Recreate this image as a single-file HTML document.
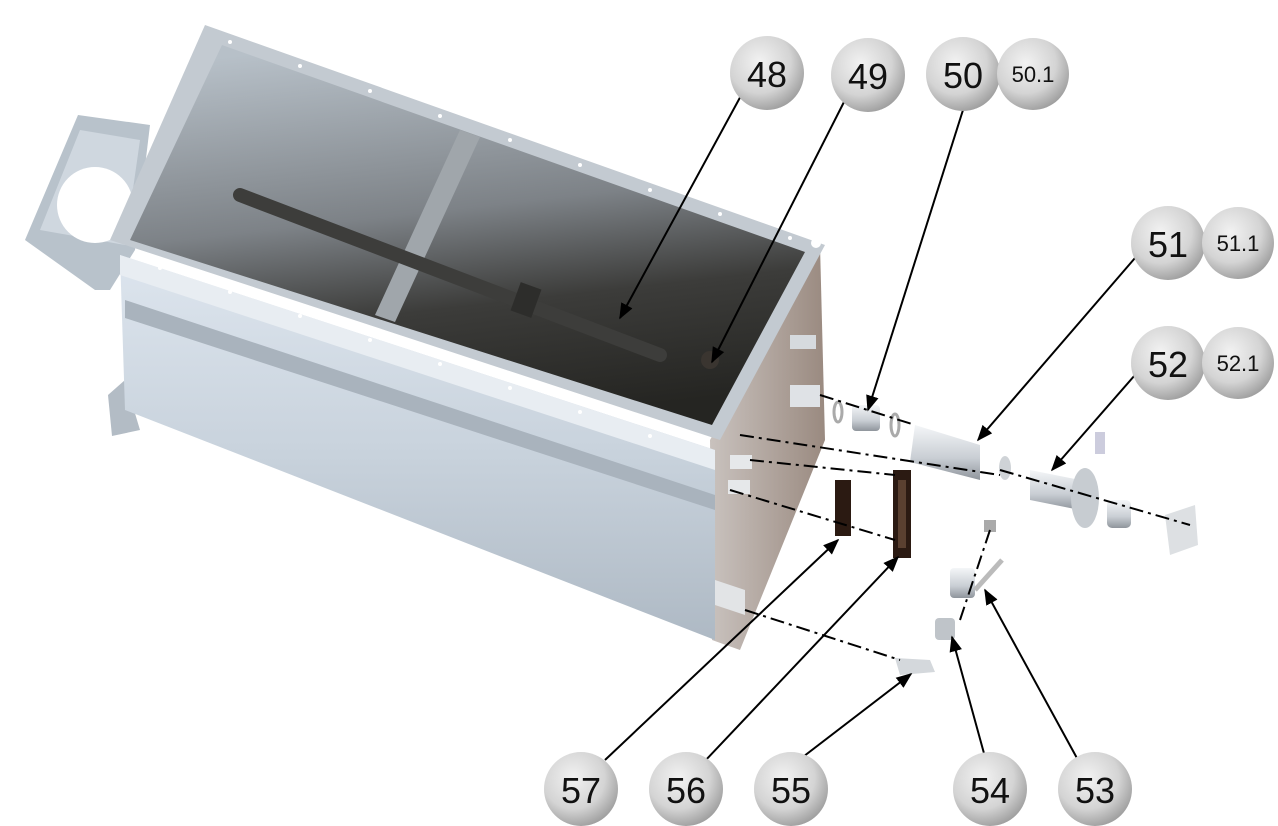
<!DOCTYPE html>
<html><head><meta charset="utf-8"><style>
html,body{margin:0;padding:0;background:#fff;}
svg{display:block;}
text{font-family:"Liberation Sans",sans-serif;fill:#111;text-anchor:middle;}
</style></head><body>
<svg width="1278" height="826" viewBox="0 0 1278 826" xmlns="http://www.w3.org/2000/svg">
<defs>
<radialGradient id="b" cx="0.4" cy="0.35" r="0.7">
<stop offset="0" stop-color="#f2f2f2"/><stop offset="0.6" stop-color="#d4d4d4"/><stop offset="1" stop-color="#9a9a9a"/>
</radialGradient>
<linearGradient id="inner" x1="0.3" y1="0" x2="0.5" y2="1">
<stop offset="0" stop-color="#b7c0c8"/><stop offset="0.45" stop-color="#7d8287"/><stop offset="0.7" stop-color="#3c3c3a"/><stop offset="1" stop-color="#252522"/>
</linearGradient>
<linearGradient id="front" x1="0" y1="0" x2="0" y2="1">
<stop offset="0" stop-color="#dde5ee"/><stop offset="0.5" stop-color="#c9d3dd"/><stop offset="1" stop-color="#aeb9c4"/>
</linearGradient>
<linearGradient id="end" x1="0" y1="0" x2="1" y2="0">
<stop offset="0" stop-color="#c9c2be"/><stop offset="1" stop-color="#9a8a80"/>
</linearGradient>
<linearGradient id="cyl" x1="0" y1="0" x2="0" y2="1">
<stop offset="0" stop-color="#f4f6f8"/><stop offset="0.6" stop-color="#c9ced4"/><stop offset="1" stop-color="#8f959c"/>
</linearGradient>
<marker id="ar" viewBox="0 0 10 10" refX="9" refY="5" markerWidth="8" markerHeight="8" orient="auto"><path d="M0,1 L10,5 L0,9 z" fill="#000"/></marker>
</defs>

<!-- left bracket -->
<polygon points="25,240 78,115 150,125 135,250 110,290 95,290" fill="#b8c2cb"/>
<polygon points="40,230 80,130 140,140 125,245" fill="#cfd7df"/>
<circle cx="95" cy="205" r="38" fill="#fff"/>
<polygon points="108,395 125,380 140,430 112,436" fill="#b3bcc5"/>

<!-- end plate right -->
<polygon points="710,440 820,245 825,440 740,650 712,640" fill="url(#end)"/>
<!-- front face -->
<polygon points="120,255 715,450 715,640 125,410" fill="url(#front)"/>
<polygon points="120,255 715,450 715,470 120,275" fill="#e8edf2"/>
<polygon points="125,300 715,495 715,510 125,318" fill="#a9b3bd"/>
<!-- top interior -->
<polygon points="205,25 825,245 720,440 110,240" fill="#c3cad1"/>
<polygon points="222,45 805,252 712,425 130,240" fill="url(#inner)"/>
<!-- divider -->
<polygon points="460,130 480,137 395,322 375,315" fill="#a0a6ab"/>
<!-- shaft -->
<line x1="240" y1="195" x2="660" y2="355" stroke="#3d3d3b" stroke-width="14" stroke-linecap="round"/>
<rect x="515" y="285" width="22" height="30" fill="#2d2d2b" transform="rotate(20 526 300)"/>
<circle cx="710" cy="360" r="9" fill="#3a3530"/>
<!-- rim dots -->
<g fill="#fff">
<circle cx="230" cy="42" r="2"/><circle cx="300" cy="66" r="2"/><circle cx="370" cy="91" r="2"/><circle cx="440" cy="116" r="2"/><circle cx="510" cy="140" r="2"/><circle cx="580" cy="165" r="2"/><circle cx="650" cy="190" r="2"/><circle cx="720" cy="214" r="2"/><circle cx="790" cy="238" r="2"/>
<circle cx="160" cy="268" r="2"/><circle cx="230" cy="292" r="2"/><circle cx="300" cy="316" r="2"/><circle cx="370" cy="340" r="2"/><circle cx="440" cy="364" r="2"/><circle cx="510" cy="388" r="2"/><circle cx="580" cy="412" r="2"/><circle cx="650" cy="436" r="2"/>
<circle cx="816" cy="243" r="5"/>
</g>
<!-- fittings on end plate -->
<rect x="790" y="335" width="26" height="14" fill="#d6dade"/>
<rect x="790" y="385" width="30" height="22" fill="#dfe2e6"/>
<rect x="730" y="455" width="22" height="14" fill="#e6e8ea"/>
<rect x="728" y="480" width="22" height="14" fill="#e6e8ea"/>
<polygon points="715,580 745,590 745,615 715,605" fill="#e2e4e6"/>

<!-- parts -->
<ellipse cx="838" cy="412" rx="4" ry="10" fill="none" stroke="#aaa" stroke-width="3"/>
<rect x="852" y="405" width="28" height="26" rx="4" fill="url(#cyl)"/>
<ellipse cx="895" cy="425" rx="4" ry="11" fill="none" stroke="#aaa" stroke-width="3"/>
<polygon points="915,425 980,445 980,480 910,462" fill="url(#cyl)"/>
<ellipse cx="1005" cy="468" rx="6" ry="12" fill="#cfd3d7"/>
<polygon points="1030,470 1080,480 1080,510 1030,500" fill="url(#cyl)"/>
<ellipse cx="1085" cy="498" rx="14" ry="30" fill="#c7ccd1"/>
<rect x="1095" y="432" width="10" height="22" fill="#ccd"/>
<rect x="1107" y="500" width="24" height="28" rx="5" fill="url(#cyl)"/>
<polygon points="1165,515 1195,505 1198,545 1170,555" fill="#dde0e3"/>
<rect x="835" y="480" width="16" height="56" fill="#2b1a12"/>
<rect x="893" y="470" width="18" height="88" fill="#2b1a12"/>
<rect x="898" y="480" width="8" height="68" fill="#5a4030"/>
<rect x="984" y="520" width="12" height="12" fill="#aaa"/>
<rect x="950" y="568" width="25" height="30" rx="4" fill="url(#cyl)"/>
<line x1="975" y1="590" x2="1002" y2="560" stroke="#bbb" stroke-width="5"/>
<rect x="935" y="618" width="20" height="22" rx="4" fill="#bfc4c9"/>
<polygon points="895,658 930,660 935,672 900,675" fill="#d4d8dc"/>

<!-- dash-dot lines -->
<g stroke="#000" stroke-width="2" stroke-dasharray="14,5,3,5" fill="none">
<line x1="740" y1="435" x2="1000" y2="475"/>
<line x1="1000" y1="470" x2="1190" y2="525"/>
<line x1="750" y1="460" x2="895" y2="475"/>
<line x1="730" y1="490" x2="895" y2="540"/>
<line x1="745" y1="610" x2="900" y2="660"/>
<line x1="990" y1="530" x2="960" y2="620"/>
<line x1="820" y1="395" x2="915" y2="425"/>
</g>

<!-- leaders -->
<g stroke="#000" stroke-width="2" marker-end="url(#ar)">
<line x1="743" y1="92" x2="620" y2="318"/>
<line x1="845" y1="100" x2="712" y2="362"/>
<line x1="963" y1="110" x2="868" y2="410"/>
<line x1="1135" y1="258" x2="978" y2="440"/>
<line x1="1135" y1="375" x2="1052" y2="470"/>
<line x1="605" y1="760" x2="838" y2="540"/>
<line x1="703" y1="763" x2="898" y2="557"/>
<line x1="795" y1="763" x2="911" y2="674"/>
<line x1="985" y1="757" x2="952" y2="637"/>
<line x1="1078" y1="760" x2="985" y2="590"/>
</g>

<!-- balloons -->
<g>
<circle cx="767" cy="73" r="37" fill="url(#b)"/><text x="767" y="87" font-size="36">48</text>
<circle cx="868" cy="75" r="37" fill="url(#b)"/><text x="868" y="89" font-size="36">49</text>
<circle cx="963" cy="74" r="37" fill="url(#b)"/><text x="963" y="88" font-size="36">50</text>
<circle cx="1033" cy="74" r="36" fill="url(#b)"/><text x="1033" y="82" font-size="22">50.1</text>
<circle cx="1168" cy="243" r="37" fill="url(#b)"/><text x="1168" y="257" font-size="36">51</text>
<circle cx="1238" cy="243" r="36" fill="url(#b)"/><text x="1238" y="251" font-size="22">51.1</text>
<circle cx="1168" cy="363" r="37" fill="url(#b)"/><text x="1168" y="377" font-size="36">52</text>
<circle cx="1238" cy="363" r="36" fill="url(#b)"/><text x="1238" y="371" font-size="22">52.1</text>
<circle cx="581" cy="789" r="37" fill="url(#b)"/><text x="581" y="803" font-size="36">57</text>
<circle cx="686" cy="789" r="37" fill="url(#b)"/><text x="686" y="803" font-size="36">56</text>
<circle cx="791" cy="789" r="37" fill="url(#b)"/><text x="791" y="803" font-size="36">55</text>
<circle cx="990" cy="789" r="37" fill="url(#b)"/><text x="990" y="803" font-size="36">54</text>
<circle cx="1095" cy="789" r="37" fill="url(#b)"/><text x="1095" y="803" font-size="36">53</text>
</g>
</svg>
</body></html>
